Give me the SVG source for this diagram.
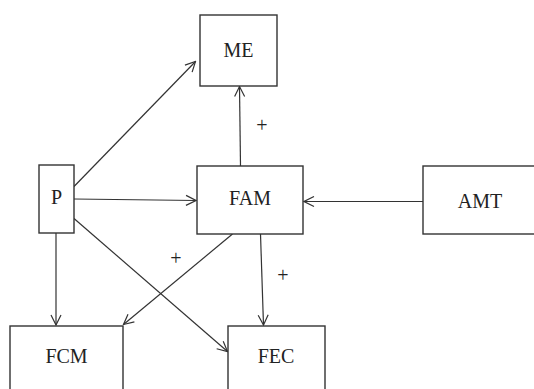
<svg xmlns="http://www.w3.org/2000/svg" width="534" height="389" viewBox="0 0 534 389">
<style>
.box{fill:#fff;stroke:#333;stroke-width:1.4}
.lbl{font-family:"Liberation Serif",serif;font-size:20px;fill:#222;text-anchor:middle}
.pl{font-family:"Liberation Serif",serif;font-size:20px;fill:#222;text-anchor:middle}
.ed{fill:none;stroke:#333;stroke-width:1.2;marker-end:url(#ah)}
</style>
<defs>
<marker id="ah" viewBox="0 0 12 12" refX="11" refY="6" markerWidth="12" markerHeight="12" markerUnits="userSpaceOnUse" orient="auto">
<path d="M1,1 L11,6 L1,11" fill="none" stroke="#333" stroke-width="1.2"/>
</marker>
</defs>
<rect width="534" height="389" fill="#fff"/>
<g id="connectors">
<line class="ed" x1="74" y1="186.5" x2="195.5" y2="61.5"/>
<line class="ed" x1="74" y1="199" x2="196" y2="200.5"/>
<line class="ed" x1="56" y1="233" x2="56" y2="325"/>
<line class="ed" x1="74" y1="218.5" x2="227.5" y2="351.5"/>
<line class="ed" x1="232.5" y1="234" x2="123.5" y2="324.5"/>
<line class="ed" x1="260.5" y1="234" x2="263.5" y2="325"/>
<line class="ed" x1="240.5" y1="166" x2="239.5" y2="86.5"/>
<line class="ed" x1="423" y1="201.5" x2="304" y2="201.5"/>
<text class="pl" x="262" y="132">+</text>
<text class="pl" x="176" y="265">+</text>
<text class="pl" x="283" y="282">+</text>
</g>
<g id="ME"><rect class="box" x="200" y="15" width="77" height="71"/><text class="lbl" x="238.5" y="57">ME</text></g>
<g id="P"><rect class="box" x="39" y="165" width="35" height="68"/><text class="lbl" x="56.5" y="204">P</text></g>
<g id="FAM"><rect class="box" x="197" y="166" width="106" height="68"/><text class="lbl" x="250" y="205">FAM</text></g>
<g id="AMT"><rect class="box" x="423" y="166" width="120" height="68"/><text class="lbl" x="480" y="208">AMT</text></g>
<g id="FCM"><rect class="box" x="10" y="326" width="113" height="70"/><text class="lbl" x="66.5" y="363">FCM</text></g>
<g id="FEC"><rect class="box" x="228" y="326" width="97" height="70"/><text class="lbl" x="276" y="363">FEC</text></g>
</svg>
